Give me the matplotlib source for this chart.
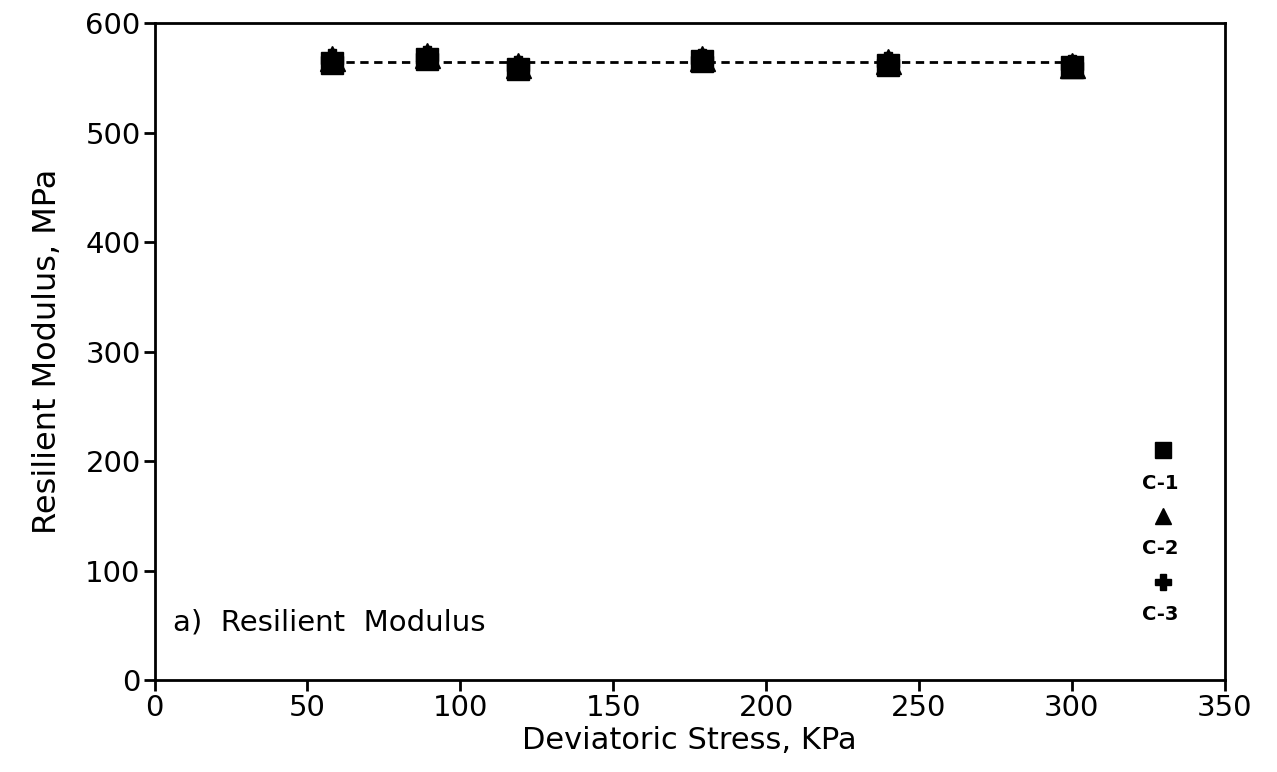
import numpy as np
import matplotlib.pyplot as plt

plt.rcParams['font.family'] = ['DejaVu Sans']

# data
stress = [58, 89, 119, 179, 240, 300]
c1 = [564, 567, 558, 565, 562, 560]
c2 = [568, 571, 562, 568, 565, 562]
c3 = [566, 569, 560, 566, 564, 561]
series_names = ['C-1', 'C-2', 'C-3']

fig = plt.figure(figsize=(12.77, 7.72), dpi=100)
ax = fig.add_axes([0.121, 0.119, 0.838, 0.851])

# mean line (dotted)
mean_val = np.mean([c1, c2, c3])
ax.plot([stress[0], stress[-1]], [mean_val, mean_val], color='black',
        linestyle=(0, (3, 2)), linewidth=2, zorder=1)

ax.plot(stress, c1, 's', color='black', markersize=16, zorder=3)
ax.plot(stress, c2, '^', color='black', markersize=18, zorder=3)
ax.plot(stress, c3, 'P', color='black', markersize=16, zorder=3)

ax.set_xlim(0, 350)
ax.set_ylim(0, 600)
ax.set_xticks(range(0, 351, 50))
ax.set_yticks(range(0, 601, 100))
ax.tick_params(direction='out', length=8, width=2, labelsize=21, pad=2)
for s in ax.spines.values():
    s.set_linewidth(2)

ax.set_xlabel('Deviatoric Stress, KPa', fontsize=22, labelpad=3)
ax.set_ylabel('Resilient Modulus, MPa', fontsize=23, labelpad=16)

ax.text(6, 45, 'a)  Resilient  Modulus', fontsize=21)

# legend drawn as marker above label
markers = ['s', '^', 'P']
leg_y = [210, 150, 90]
for m, name, yy in zip(markers, series_names, leg_y):
    ax.plot([330], [yy], m, color='black', markersize=12, clip_on=False)
    ax.text(329, yy - 30, name, fontsize=14, fontweight='bold', ha='center', va='center')

fig.savefig('out.png', dpi=100)
